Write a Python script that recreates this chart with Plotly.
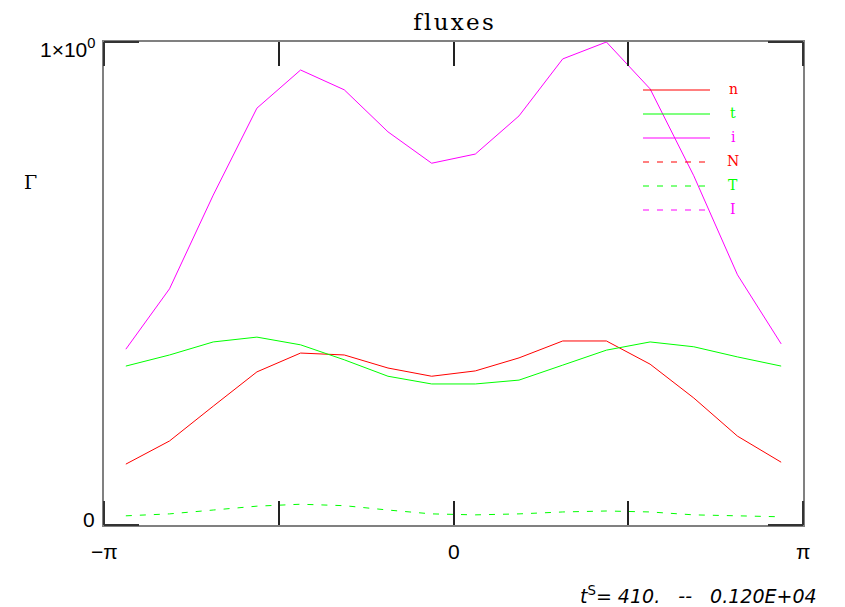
import numpy as np
import plotly.graph_objects as go

# 16 cell-centred points on [-pi, pi]
npts = 16
theta = [-np.pi + (k + 0.5) * 2 * np.pi / npts for k in range(npts)]

flux_n = [0.126, 0.174, 0.246, 0.317, 0.356, 0.352, 0.325, 0.308,
          0.319, 0.346, 0.381, 0.381, 0.333, 0.263, 0.184, 0.130]
flux_t = [0.329, 0.352, 0.379, 0.389, 0.373, 0.342, 0.308, 0.292,
          0.292, 0.300, 0.331, 0.362, 0.379, 0.369, 0.348, 0.329]
flux_i = [0.364, 0.489, 0.683, 0.863, 0.942, 0.901, 0.814, 0.749,
          0.768, 0.847, 0.965, 1.000, 0.903, 0.723, 0.518, 0.375]
flux_N = [0.0] * 16
flux_T = [0.019, 0.023, 0.031, 0.039, 0.043, 0.040, 0.031, 0.023,
          0.021, 0.023, 0.027, 0.029, 0.027, 0.021, 0.019, 0.017]
flux_I = [0.0] * 16

series = [
    ("n", flux_n, "#ff0000", "solid", True),
    ("t", flux_t, "#00ff00", "solid", True),
    ("i", flux_i, "#ff00ff", "solid", True),
    ("N", flux_N, "#ff0000", "6px,8px", "legendonly"),
    ("T", flux_T, "#00ff00", "6px,8px", True),
    ("I", flux_I, "#ff00ff", "6px,8px", "legendonly"),
]

xtick_vals = [-np.pi / 2, 0, np.pi / 2]
xlabel_vals = [-np.pi, 0, np.pi]
xlabel_text = ["\u2212\u03c0", "0", "\u03c0"]
ylabel_text = ["0", "1\u00d710<sup>0</sup>"]

W, H = 845, 607
L, R, T, B = 104, 42, 42, 82
pw, ph = W - L - R, H - T - B

fig = go.Figure()
for name, vals, col, dash, vis in series:
    fig.add_trace(go.Scatter(x=theta, y=vals, mode="lines", name=name,
                             line=dict(color=col, width=1, dash=dash),
                             visible=vis, showlegend=False,
                             hoverinfo="skip"))


def px2paper_x(px):
    return (px - L) / pw


def px2paper_y(py):
    return 1 - (py - T) / ph


# manual legend
for k, (name, vals, col, dash, vis) in enumerate(series):
    yy = 90 + 24 * k
    x1 = 710 if dash == "solid" else 706
    fig.add_shape(type="line", xref="paper", yref="paper",
                  x0=px2paper_x(643), x1=px2paper_x(x1),
                  y0=px2paper_y(yy), y1=px2paper_y(yy),
                  line=dict(color=col, width=1.2, dash=dash))
    fig.add_annotation(xref="paper", yref="paper", x=px2paper_x(733),
                       y=px2paper_y(yy - 1), text=name, showarrow=False,
                       font=dict(family="DejaVu Serif", size=14, color=col),
                       xanchor="center", yanchor="middle")

# corner tick marks (dark segments)
corner = dict(color="#333", width=2)
for (x0, y0, x1, y1) in [(104, 42, 139, 42), (104, 42, 104, 66),
                         (104, 525, 139, 525), (104, 525, 104, 501),
                         (768, 42, 803, 42), (803, 42, 803, 66),
                         (768, 525, 803, 525), (803, 525, 803, 501)]:
    fig.add_shape(type="line", xref="paper", yref="paper",
                  x0=px2paper_x(x0), x1=px2paper_x(x1),
                  y0=px2paper_y(y0), y1=px2paper_y(y1), line=corner)

# axis labels
for v, t in zip(xlabel_vals, xlabel_text):
    fig.add_annotation(x=v, y=0, xref="x", yref="paper", yshift=-26,
                       text=t, showarrow=False, xanchor="center",
                       yanchor="middle",
                       font=dict(family="Liberation Sans", size=21,
                                 color="black"))
fig.add_annotation(xref="paper", yref="paper", x=px2paper_x(97),
                   y=px2paper_y(48), text=ylabel_text[1], showarrow=False,
                   xanchor="right", yanchor="middle",
                   font=dict(family="Liberation Sans", size=21,
                             color="black"))
fig.add_annotation(xref="paper", yref="paper", x=px2paper_x(97),
                   y=px2paper_y(519), text=ylabel_text[0], showarrow=False,
                   xanchor="right", yanchor="middle",
                   font=dict(family="Liberation Sans", size=21,
                             color="black"))
fig.add_annotation(xref="paper", yref="paper", x=px2paper_x(30),
                   y=px2paper_y(182), text="\u0393", showarrow=False,
                   xanchor="center", yanchor="middle",
                   font=dict(family="DejaVu Serif", size=19, color="black"))
fig.add_annotation(xref="paper", yref="paper", x=px2paper_x(578),
                   y=px2paper_y(595),
                   text="<i>t</i><sup>S</sup><i>=&nbsp;410.&nbsp;&nbsp;&nbsp;--&nbsp;&nbsp;&nbsp;0.120E+04</i>",
                   showarrow=False, xanchor="left", yanchor="middle",
                   font=dict(family="DejaVu Sans", size=19, color="black"))

fig.update_layout(
    width=W, height=H, margin=dict(l=L, r=R, t=T, b=B),
    paper_bgcolor="white", plot_bgcolor="white",
    title=dict(text="f\u200al\u200au\u200ax\u200ae\u200as", x=0.5,
               xref="paper", y=1 - 22 / H,
               xanchor="center", yanchor="middle",
               font=dict(family="DejaVu Serif", size=23, color="black")),
    xaxis=dict(range=[-np.pi, np.pi], showgrid=False, zeroline=False,
               tickvals=xtick_vals, showticklabels=False, ticks="inside",
               ticklen=24, tickwidth=1.5, tickcolor="#222",
               showline=True, linecolor="#808080", linewidth=2,
               mirror="ticks"),
    yaxis=dict(range=[0, 1], showgrid=False, zeroline=False,
               showticklabels=False, ticks="",
               showline=True, linecolor="#808080", linewidth=2,
               mirror=True),
)

fig.write_html("out.html")
